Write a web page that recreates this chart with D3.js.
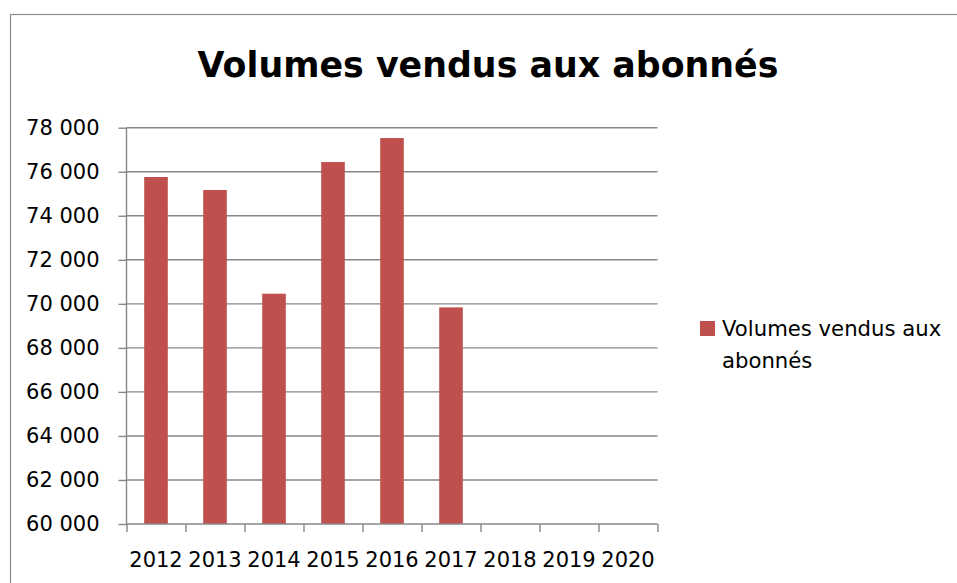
<!DOCTYPE html>
<html>
<head>
<meta charset="utf-8">
<script src="https://cdn.jsdelivr.net/npm/d3@7"></script>
<style>
  body { margin: 0; background: #fff; }
  svg { display: block; font-family: "DejaVu Sans", sans-serif; }
</style>
</head>
<body>
<svg id="chart"></svg>
<script>
// values
const years = ["2012", "2013", "2014", "2015", "2016", "2017", "2018", "2019", "2020"];
const volumes = [75760, 75170, 70460, 76440, 77530, 69840, null, null, null];
const yTicks = [60000, 62000, 64000, 66000, 68000, 70000, 72000, 74000, 76000, 78000];
const seriesName = "Volumes vendus aux abonnés";

const width = 957, height = 583;
const margin = { top: 127.7, bottom: 59, left: 126.5, right: 299.5 };
const plotW = width - margin.left - margin.right;
const plotH = height - margin.top - margin.bottom;

const svg = d3.select("#chart")
  .attr("width", width)
  .attr("height", height);

// chart frame (runs off the right and bottom of the picture)
svg.append("rect")
  .attr("x", 10.5).attr("y", 14.5)
  .attr("width", 980).attr("height", 600)
  .attr("fill", "#fff")
  .attr("stroke", "#8c8c8c")
  .attr("stroke-width", 1.2);

svg.append("text")
  .attr("x", 488).attr("y", 77)
  .attr("text-anchor", "middle")
  .attr("font-weight", "bold")
  .attr("font-size", "34.8px")
  .attr("fill", "#000")
  .text(seriesName);

const g = svg.append("g")
  .attr("transform", `translate(${margin.left},${margin.top})`);

const y = d3.scaleLinear()
  .domain([60000, 78000])
  .range([plotH, 0]);

const x = d3.scaleBand()
  .domain(years)
  .range([0, plotW])
  .padding(0);

// boundaries between categories, for the tick marks
const xb = d3.scaleLinear().domain([0, years.length]).range([0, plotW]);

const fr = d3.formatLocale({ decimal: ",", thousands: " ", grouping: [3], currency: ["", ""] });
const fmt = fr.format(",d");

// gridlines
g.append("g")
  .attr("class", "grid")
  .selectAll("line")
  .data(yTicks.filter(d => d > 60000))
  .join("line")
    .attr("x1", 0).attr("x2", plotW)
    .attr("y1", d => y(d)).attr("y2", d => y(d))
    .attr("stroke", "#878787")
    .attr("stroke-width", 1.4);

// bars
const barW = x.bandwidth() * 0.4;
g.selectAll(".bar")
  .data(years.map((d, i) => ({ year: d, value: volumes[i] })).filter(d => d.value != null))
  .join("rect")
    .attr("class", "bar")
    .attr("x", d => x(d.year) + (x.bandwidth() - barW) / 2)
    .attr("y", d => y(d.value))
    .attr("width", barW)
    .attr("height", d => plotH - y(d.value))
    .attr("fill", "#c0504d");

// y axis
const yAxis = g.append("g")
  .call(d3.axisLeft(y).tickValues(yTicks).tickSize(8).tickPadding(19).tickFormat(fmt));
yAxis.select(".domain").attr("stroke", "#878787").attr("stroke-width", 1.4)
  .attr("d", `M0,0V${plotH}`);
yAxis.selectAll(".tick line").attr("stroke", "#878787").attr("stroke-width", 1.4);
yAxis.selectAll(".tick text")
  .attr("font-size", "21px")
  .attr("fill", "#000")
  .attr("font-family", "DejaVu Sans, sans-serif");

// x axis: tick marks at category boundaries
const xAxis = g.append("g")
  .attr("transform", `translate(0,${plotH})`)
  .call(d3.axisBottom(xb).ticks(years.length).tickSize(8).tickFormat(""));
xAxis.select(".domain").attr("stroke", "#878787").attr("stroke-width", 1.4)
  .attr("d", `M0,0H${plotW}`);
xAxis.selectAll(".tick line").attr("stroke", "#878787").attr("stroke-width", 1.4);

// x labels, centered on categories
const xLab = g.append("g")
  .attr("transform", `translate(0,${plotH})`)
  .call(d3.axisBottom(x).tickSize(0).tickPadding(0));
xLab.select(".domain").remove();
xLab.selectAll(".tick text")
  .attr("y", 43)
  .attr("dy", 0)
  .attr("font-size", "21px")
  .attr("fill", "#000")
  .attr("font-family", "DejaVu Sans, sans-serif");

// legend
const legend = svg.append("g").attr("transform", "translate(700,321)");
legend.append("rect")
  .attr("width", 15).attr("height", 15)
  .attr("fill", "#c0504d");
const lt = legend.append("text")
  .attr("font-size", "21.2px")
  .attr("fill", "#000");
lt.append("tspan").attr("x", 22).attr("y", 15).text("Volumes vendus aux");
lt.append("tspan").attr("x", 22).attr("y", 47).text("abonnés");
</script>
</body>
</html>
